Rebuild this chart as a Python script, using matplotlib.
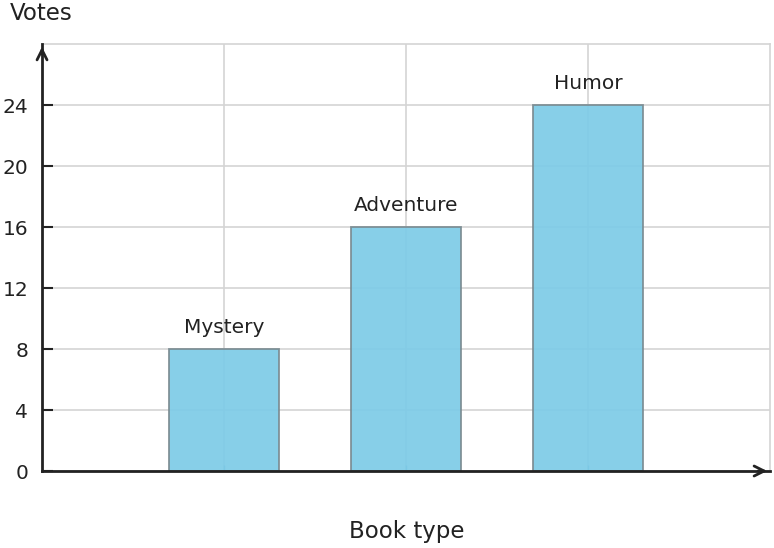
import matplotlib.pyplot as plt
import numpy as np

categories = ['Mystery', 'Adventure', 'Humor']
votes = [8, 16, 24]
y_ticks = [0, 4, 8, 12, 16, 20, 24]

fig = plt.figure(figsize=(7.74, 5.48), dpi=100)
ax = fig.add_axes([0.0543, 0.1405, 0.9405, 0.7792])

x = np.arange(1, len(categories) + 1)
ax.bar(x, votes, width=0.6, color='#7dcbe7', alpha=0.92, edgecolor='#7a8a90',
       linewidth=1.3, zorder=2)

for xi, v, name in zip(x, votes, categories):
    ax.text(xi, v + 0.8, name, ha='center', va='bottom', fontsize=14.5,
            color='#222222', zorder=3)

ax.set_xlim(0, 4)
ax.set_ylim(0, 28)
ax.set_yticks(y_ticks)
ax.set_xticks(x)
ax.set_xticklabels([])
ax.tick_params(axis='y', direction='in', length=8, width=1.5, labelsize=14.5,
               colors='#222222', pad=10)
ax.tick_params(axis='x', direction='in', length=4, width=1, color='#6aaac4')

ax.grid(True, color='#d4d4d4', linewidth=1.2, zorder=1)
ax.set_axisbelow(True)

for s in ['top', 'right']:
    ax.spines[s].set_color('#d4d4d4')
    ax.spines[s].set_linewidth(1.2)
for s in ['left', 'bottom']:
    ax.spines[s].set_color('#222222')
    ax.spines[s].set_linewidth(2)
    ax.spines[s].set_zorder(4)

# arrow heads on the axes
ax.annotate('', xy=(0, 1.0), xytext=(0, 0.97), xycoords='axes fraction',
            arrowprops=dict(arrowstyle='->', color='#222222', lw=2,
                            mutation_scale=18), annotation_clip=False)
ax.annotate('', xy=(1.0, 0), xytext=(0.98, 0), xycoords='axes fraction',
            arrowprops=dict(arrowstyle='->', color='#222222', lw=2,
                            mutation_scale=18), annotation_clip=False)

fig.text(0.013, 0.997, 'Votes', fontsize=16.5, color='#222222', va='top', ha='left')
fig.text(0.525, 0.031, 'Book type', fontsize=16.5, color='#222222', va='center', ha='center')

fig.savefig('out.png', dpi=100)
